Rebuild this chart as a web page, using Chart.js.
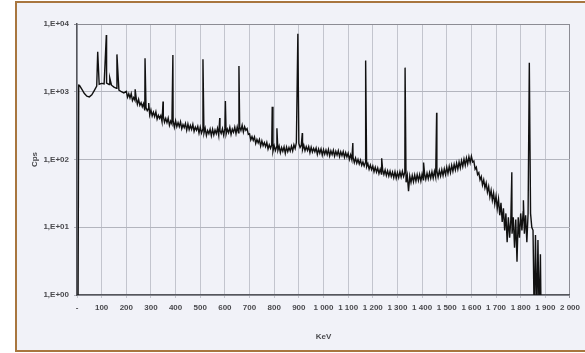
<!DOCTYPE html>
<html>
<head>
<meta charset="utf-8">
<script src="https://cdn.jsdelivr.net/npm/chart.js@4"></script>
<style>
  html, body { margin: 0; padding: 0; background: #ffffff; overflow: hidden; }
  #frame {
    position: absolute; left: 15px; top: 1px; width: 600px; height: 347px;
    border: 2px solid #a8763f; background: #f1f2f8;
  }
  #wrap { position: absolute; left: 0; top: 0; width: 585px; height: 353px; }
</style>
</head>
<body>
<div id="frame"></div>
<div id="wrap"><canvas id="spectrum" width="585" height="353"></canvas></div>
<script>
// Continuum: energy (keV) and count rate (Cps)
const energyKeV = [
  4, 7, 10, 20, 30, 40, 50, 60, 70, 80, 90, 100, 110, 120, 130, 140, 150, 160, 170, 180, 190,
  200, 205, 210, 215, 220, 225, 230, 235, 240, 245, 250, 255, 260, 265, 270, 275, 280, 285, 290, 295,
  300, 305, 310, 315, 320, 325, 330, 335, 340, 345, 350, 355, 360, 365, 370, 375, 380, 385, 390, 395,
  400, 405, 410, 415, 420, 425, 430, 435, 440, 445, 450, 455, 460, 465, 470, 475, 480, 485, 490, 495,
  500, 505, 510, 515, 520, 525, 530, 535, 540, 545, 550, 555, 560, 565, 570, 575, 580, 585, 590, 595,
  600, 605, 610, 615, 620, 625, 630, 635, 640, 645, 650, 655, 660, 665, 670, 675, 680, 685, 690, 695,
  700, 705, 710, 715, 720, 725, 730, 735, 740, 745, 750, 755, 760, 765, 770, 775, 780, 785, 790, 795,
  800, 805, 810, 815, 820, 825, 830, 835, 840, 845, 850, 855, 860, 865, 870, 875, 880, 885, 890,
  900, 905, 910, 915, 920, 925, 930, 935, 940, 945, 950, 955, 960, 965, 970, 975, 980, 985, 990, 995,
  1000, 1005, 1010, 1015, 1020, 1025, 1030, 1035, 1040, 1045, 1050, 1055, 1060, 1065, 1070, 1075, 1080, 1085, 1090, 1095,
  1100, 1105, 1110, 1115, 1120, 1125, 1130, 1135, 1140, 1145, 1150, 1155, 1160, 1165, 1170, 1175, 1180, 1185, 1190, 1195,
  1200, 1205, 1210, 1215, 1220, 1225, 1230, 1235, 1240, 1245, 1250, 1255, 1260, 1265, 1270, 1275, 1280, 1285, 1290, 1295,
  1300, 1305, 1310, 1315, 1320, 1325, 1330, 1335, 1340, 1345, 1350, 1355, 1360, 1365, 1370, 1375, 1380, 1385, 1390, 1395,
  1400, 1405, 1410, 1415, 1420, 1425, 1430, 1435, 1440, 1445, 1450, 1455, 1460, 1465, 1470, 1475, 1480, 1485, 1490, 1495,
  1500, 1505, 1510, 1515, 1520, 1525, 1530, 1535, 1540, 1545, 1550, 1555, 1560, 1565, 1570, 1575, 1580, 1585, 1590, 1595,
  1600, 1605, 1610, 1615, 1620, 1625, 1630, 1635, 1640, 1645, 1650, 1655, 1660, 1665, 1670, 1675, 1680, 1685, 1690, 1695,
  1700, 1705, 1710, 1715, 1720, 1725, 1730, 1735, 1740, 1745, 1750, 1755, 1760, 1765, 1770, 1775, 1780, 1785, 1790, 1795,
  1800, 1805, 1810, 1815, 1820, 1825, 1830, 1840, 1845,
  1850, 1855, 1860, 1865, 1870, 1875, 1880, 1883
];
const cps = [
  0.4, 1250, 1240, 1080, 940, 860, 840, 900, 1040, 1210, 1290, 1330, 1310, 1340, 1280, 1250, 1170, 1120, 1060, 1000, 960,
  1010, 830, 935, 810, 940, 740, 820, 745, 815, 655, 770, 630, 690, 600, 670, 530, 585, 525, 565, 455,
  540, 440, 500, 430, 505, 395, 450, 405, 445, 360, 435, 355, 405, 350, 410, 320, 370, 335, 375, 300,
  372, 305, 350, 305, 360, 285, 328, 296, 340, 270, 335, 275, 318, 278, 330, 260, 300, 270, 308, 245,
  300, 245, 278, 243, 290, 226, 268, 240, 280, 224, 280, 230, 272, 240, 288, 227, 270, 242, 284, 228,
  288, 236, 280, 248, 298, 234, 280, 252, 300, 240, 303, 248, 302, 268, 320, 255, 305, 270, 285, 235,
  240, 195, 218, 192, 215, 172, 198, 176, 198, 158, 188, 160, 178, 155, 178, 143, 165, 146, 165, 132,
  160, 136, 154, 136, 158, 126, 150, 132, 154, 123, 152, 130, 150, 133, 158, 134, 165, 145, 178,
  172, 150, 162, 140, 163, 135, 155, 136, 155, 126, 152, 129, 146, 130, 148, 119, 143, 124, 143, 116,
  140, 120, 138, 118, 140, 113, 134, 118, 137, 112, 132, 116, 135, 110, 130, 114, 131, 108, 126, 109,
  124, 100, 117, 99, 108, 90, 105, 88, 100, 86, 98, 82, 92, 80, 90, 78, 87, 72, 83, 71,
  80, 66, 77, 65, 75, 62, 72, 61, 71, 60, 70, 58, 68, 57, 67, 56, 65, 54, 66, 53,
  64, 54, 66, 55, 67, 56, 65, 46, 58, 34, 57, 46, 58, 47, 59, 48, 60, 49, 60, 48,
  61, 50, 62, 51, 63, 52, 64, 53, 66, 53, 67, 55, 68, 55, 69, 57, 71, 58, 73, 60,
  77, 62, 79, 64, 82, 67, 85, 70, 88, 72, 92, 75, 96, 79, 101, 82, 105, 86, 110, 90,
  112, 92, 95, 72, 77, 60, 64, 50, 56, 42, 50, 38, 45, 33, 40, 28, 35, 25, 32, 22,
  29, 19, 26, 15, 23, 12, 19, 9, 16, 6, 14, 7, 13, 8, 14, 5, 13, 3.1, 14, 7,
  16, 9, 17, 8, 15, 6, 16, 16, 10,
  9, 0.4, 7.7, 0.4, 6.5, 0.4, 4, 0.4
];

// Photopeaks: energy (keV) and peak count rate (Cps)
const peakKeV = [84, 119, 133, 162, 236, 276, 291, 349, 389, 511, 579, 602, 657, 792, 811, 896, 914, 1119, 1171, 1236, 1331, 1406, 1459, 1764, 1811, 1835];
const peakCps = [3900, 6900, 1600, 3560, 1090, 3110, 680, 720, 3480, 3020, 410, 730, 2400, 600, 290, 7200, 245, 175, 2900, 104, 2270, 90, 490, 65, 25, 2680];

// Axis ticks
const xTicks = [0, 100, 200, 300, 400, 500, 600, 700, 800, 900, 1000, 1100, 1200, 1300, 1400, 1500, 1600, 1700, 1800, 1900, 2000];
const xTickLabels = ['-', '100', '200', '300', '400', '500', '600', '700', '800', '900', '1 000', '1 100', '1 200', '1 300', '1 400', '1 500', '1 600', '1 700', '1 800', '1 900', '2 000'];
const yTicks = [1, 10, 100, 1000, 10000];
const yTickLabels = ['1,E+00', '1,E+01', '1,E+02', '1,E+03', '1,E+04'];

// merge continuum + peaks, sorted by energy
const points = energyKeV.map((e, i) => ({ x: e, y: cps[i] }))
  .concat(peakKeV.map((e, i) => ({ x: e, y: peakCps[i] })))
  .sort((a, b) => a.x - b.x);

const font = { family: '"Liberation Sans", Arial, sans-serif', size: 8, weight: 'bold' };

new Chart(document.getElementById('spectrum'), {
  type: 'line',
  data: {
    datasets: [{
      data: points,
      borderColor: '#111111',
      borderWidth: 1.4,
      pointRadius: 0,
      tension: 0,
      fill: false,
    }],
  },
  options: {
    responsive: false,
    animation: false,
    events: [],
    layout: { padding: { left: 0, right: 14, top: 24, bottom: 0 } },
    plugins: { legend: { display: false }, tooltip: { enabled: false } },
    scales: {
      x: {
        type: 'linear',
        min: 0,
        max: 2000,
        afterBuildTicks: s => { s.ticks = xTicks.map(v => ({ value: v })); },
        afterFit: s => { s.height = 58; },
        ticks: {
          autoSkip: false, maxRotation: 0, padding: 5, color: '#4a4a4e', font,
          callback: (v, i) => xTickLabels[i],
        },
        grid: {
          color: ctx => ctx.index === xTicks.length - 1 ? '#8c8c94' : '#c3c5ce',
          lineWidth: 1,
          tickLength: 3,
        },
        border: { color: '#55565c', width: 1.5 },
        title: { display: true, text: 'KeV', color: '#4a4a4e', font, padding: { top: 0, bottom: 11 } },
      },
      y: {
        type: 'logarithmic',
        min: 1,
        max: 10000,
        afterBuildTicks: s => { s.ticks = yTicks.map(v => ({ value: v })); },
        afterFit: s => { s.width = 77; },
        ticks: {
          padding: 5, color: '#4a4a4e', font,
          callback: (v, i) => yTickLabels[i],
        },
        grid: {
          color: ctx => ctx.index === yTicks.length - 1 ? '#8c8c94' : '#b3b5be',
          lineWidth: 1,
          tickLength: 3,
        },
        border: { color: '#55565c', width: 1.5 },
        title: { display: true, text: 'Cps', color: '#4a4a4e', font, padding: { top: 30, bottom: 0 } },
      },
    },
  },
});
</script>
</body>
</html>
